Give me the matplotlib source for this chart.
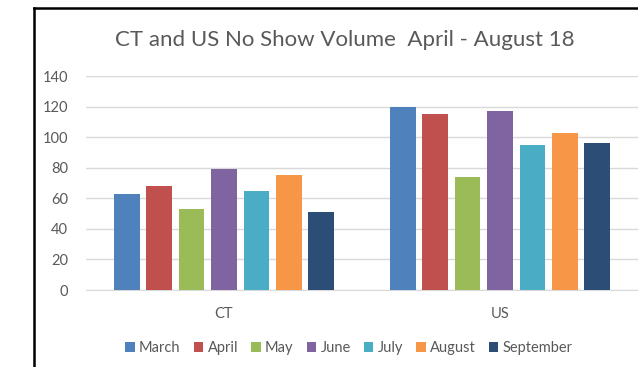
import matplotlib.pyplot as plt
import numpy as np
from matplotlib.lines import Line2D

plt.rcParams['font.family'] = ['Lato', 'DejaVu Sans']

groups = ['CT', 'US']
months = ['March', 'April', 'May', 'June', 'July', 'August', 'September']
colors = ['#4F81BD', '#C0504D', '#9BBB59', '#8064A2', '#4BACC6', '#F79646', '#2C4D75']
ct = [63, 68, 53, 79, 65, 75, 51]
us = [120, 115, 74, 117, 95, 103, 96]
yticks = [0, 20, 40, 60, 80, 100, 120, 140]

fig = plt.figure(figsize=(6.38, 3.67), dpi=100)
ax = fig.add_axes([86/638, 1-290/367, 1-86/638, 214/367])

x = np.arange(len(groups))
step = 0.1174
width = 0.0924
for i, m in enumerate(months):
    vals = [ct[i], us[i]]
    ax.bar(x + (i-3)*step, vals, width, color=colors[i], label=m, zorder=3)

ax.set_xlim(-0.5, 1.5)
ax.set_ylim(0, 140)
ax.set_yticks(yticks)
ax.set_xticks(x)
ax.set_xticklabels(groups)
ax.grid(axis='y', color='#d9d9d9', linewidth=1, zorder=0)
for s in ['top', 'right', 'left']:
    ax.spines[s].set_visible(False)
ax.spines['bottom'].set_color('#d9d9d9')
ax.tick_params(axis='both', length=0, colors='#595959', labelsize=10.5)
ax.tick_params(axis='y', pad=13)
ax.tick_params(axis='x', pad=12)

fig.text(345/638, 1-40/367, 'CT and US No Show Volume  April - August 18',
         ha='center', va='center', fontsize=16, color='#595959')

leg = fig.legend(loc='center', bbox_to_anchor=(349/638, 1-348/367), ncol=7,
                 frameon=False, fontsize=10.5, handlelength=0.65, handleheight=0.65,
                 handletextpad=0.3, columnspacing=0.9, borderaxespad=0)
for t in leg.get_texts():
    t.set_color('#595959')

# chart frame (cropped screenshot border)
fig.add_artist(Line2D([34/638, 34/638], [0, 1-8/367], color='black', linewidth=1.8,
                      transform=fig.transFigure))
fig.add_artist(Line2D([34/638, 1], [1-8/367, 1-8/367], color='black', linewidth=1.8,
                      transform=fig.transFigure))

plt.savefig('out.png', dpi=100)
